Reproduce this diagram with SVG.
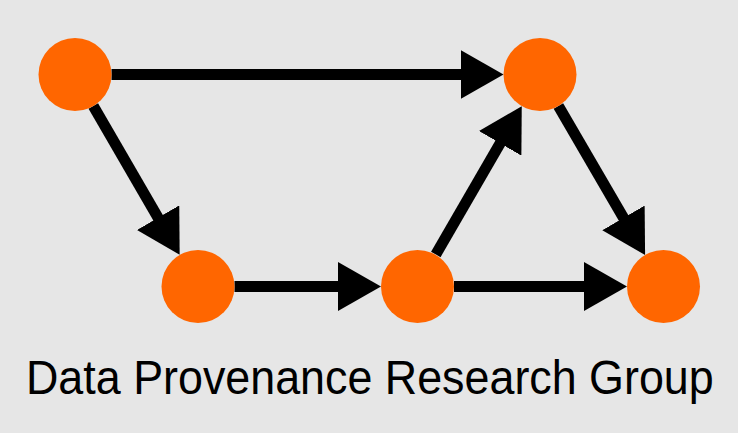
<svg xmlns="http://www.w3.org/2000/svg" width="738" height="433" viewBox="0 0 738 433">
<style>
.edge{stroke:#000;stroke-width:11;fill:none;marker-end:url(#ah)}
.node{fill:#ff6600}
.title{font-family:"Liberation Sans",Arial,sans-serif;font-size:49px;fill:#000}
</style>
<defs>
<marker id="ah" markerUnits="userSpaceOnUse" viewBox="0 0 43 49" refX="13" refY="24.5" markerWidth="43" markerHeight="49" orient="auto">
<path d="M0,0 L43,24.5 L0,49 Z" fill="#000"/>
</marker>
</defs>
<rect width="738" height="433" fill="#e6e6e6"/>
<g id="connectors">
<line class="edge" x1="111.5" y1="74.5" x2="473.5" y2="74.5"/>
<line class="edge" x1="93.3" y1="106.1" x2="164.6" y2="228.9"/>
<line class="edge" x1="234.5" y1="286.5" x2="351" y2="286.5"/>
<line class="edge" x1="435.8" y1="254.4" x2="506.7" y2="132.1"/>
<line class="edge" x1="454" y1="286.5" x2="597" y2="286.5"/>
<line class="edge" x1="558.4" y1="106" x2="630" y2="229.1"/>
</g>
<g id="nodeA"><circle class="node" cx="75" cy="74.5" r="36.5"/></g>
<g id="nodeB"><circle class="node" cx="540" cy="74.5" r="36.5"/></g>
<g id="nodeC"><circle class="node" cx="198" cy="286.5" r="36.5"/></g>
<g id="nodeD"><circle class="node" cx="417.5" cy="286.5" r="36.5"/></g>
<g id="nodeE"><circle class="node" cx="663.5" cy="286.5" r="36.5"/></g>
<g id="title" transform="translate(26,394) scale(0.915,1)"><text class="title" x="0" y="0">Data Provenance Research Group</text></g>
</svg>
